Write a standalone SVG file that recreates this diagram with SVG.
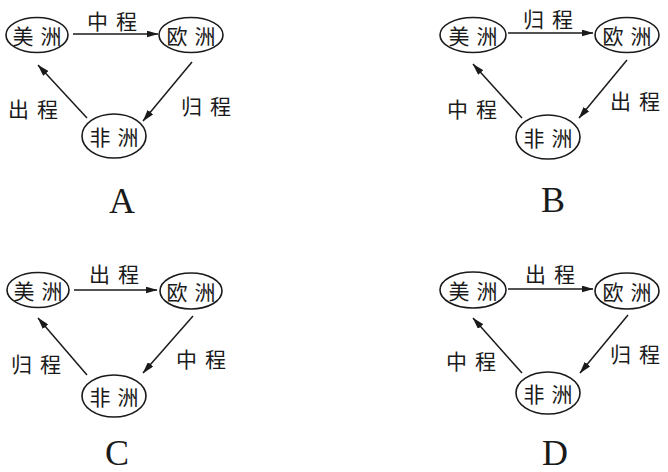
<svg xmlns="http://www.w3.org/2000/svg" width="668" height="472" viewBox="0 0 668 472">
<defs>
<style>
.n{fill:none;stroke:#1a1a1a;stroke-width:1.6}
.nt{font-family:"Noto Sans CJK SC","Noto Sans CJK JP",sans-serif;font-size:21px;font-weight:400;fill:#1a1a1a;dominant-baseline:central}
.lb{font-family:"Noto Sans CJK SC","Noto Sans CJK JP",sans-serif;font-size:21px;font-weight:400;fill:#1a1a1a;dominant-baseline:central}
.c{stroke:#1a1a1a;stroke-width:1.5;fill:none;marker-end:url(#ah)}
.cap{font-family:"Liberation Serif",serif;font-size:36px;fill:#1a1a1a;text-anchor:middle}
</style>
<marker id="ah" viewBox="0 0 12 7" refX="11.5" refY="3.5" markerWidth="12" markerHeight="7" markerUnits="userSpaceOnUse" orient="auto">
<path d="M0,0 L12,3.5 L0,7 Z" fill="#1a1a1a"/>
</marker>
</defs>
<rect width="668" height="472" fill="#ffffff"/>

<g id="connectors">
<line class="c" x1="73" y1="34" x2="158" y2="34"/>
<line class="c" x1="192" y1="62" x2="143" y2="121"/>
<line class="c" x1="87" y1="118" x2="38" y2="65"/>

<line class="c" x1="508" y1="33" x2="593" y2="33"/>
<line class="c" x1="627" y1="60" x2="579" y2="118"/>
<line class="c" x1="522" y1="118" x2="473" y2="64"/>

<line class="c" x1="74" y1="290" x2="157" y2="290"/>
<line class="c" x1="193" y1="316" x2="143" y2="373"/>
<line class="c" x1="87" y1="375" x2="38" y2="318"/>

<line class="c" x1="508" y1="289" x2="593" y2="289"/>
<line class="c" x1="628" y1="315" x2="580" y2="373"/>
<line class="c" x1="522" y1="373" x2="473" y2="318"/>
</g>

<g id="labels">
<text class="lb" x="87" y="20">中<tspan dx="8">程</tspan></text>
<text class="lb" x="181" y="105">归<tspan dx="8">程</tspan></text>
<text class="lb" x="8" y="108">出<tspan dx="8">程</tspan></text>

<text class="lb" x="523" y="18">归<tspan dx="8">程</tspan></text>
<text class="lb" x="610" y="100">出<tspan dx="8">程</tspan></text>
<text class="lb" x="447" y="108">中<tspan dx="8">程</tspan></text>

<text class="lb" x="89" y="273">出<tspan dx="8">程</tspan></text>
<text class="lb" x="176" y="358">中<tspan dx="8">程</tspan></text>
<text class="lb" x="11" y="363">归<tspan dx="8">程</tspan></text>

<text class="lb" x="525" y="273">出<tspan dx="8">程</tspan></text>
<text class="lb" x="610" y="353">归<tspan dx="8">程</tspan></text>
<text class="lb" x="446" y="360">中<tspan dx="8">程</tspan></text>
</g>

<g id="A-america"><ellipse class="n" cx="37" cy="35" rx="31" ry="17.5"/><text class="nt" x="12.5" y="35">美<tspan dx="7">洲</tspan></text></g>
<g id="A-europe"><ellipse class="n" cx="191" cy="35" rx="32" ry="17.5"/><text class="nt" x="166.5" y="35">欧<tspan dx="7">洲</tspan></text></g>
<g id="A-africa"><ellipse class="n" cx="114" cy="136" rx="32" ry="22"/><text class="nt" x="89.5" y="136">非<tspan dx="7">洲</tspan></text></g>
<text class="cap" x="122" y="213">A</text>

<g id="B-america"><ellipse class="n" cx="473" cy="35" rx="33" ry="17.5"/><text class="nt" x="448.5" y="35">美<tspan dx="7">洲</tspan></text></g>
<g id="B-europe"><ellipse class="n" cx="627" cy="35" rx="32" ry="17.5"/><text class="nt" x="602.5" y="35">欧<tspan dx="7">洲</tspan></text></g>
<g id="B-africa"><ellipse class="n" cx="548" cy="137" rx="32" ry="22"/><text class="nt" x="523.5" y="137">非<tspan dx="7">洲</tspan></text></g>
<text class="cap" x="553" y="212">B</text>

<g id="C-america"><ellipse class="n" cx="38" cy="290" rx="31" ry="17.5"/><text class="nt" x="13.5" y="290">美<tspan dx="7">洲</tspan></text></g>
<g id="C-europe"><ellipse class="n" cx="191" cy="291" rx="31" ry="18"/><text class="nt" x="166.5" y="291">欧<tspan dx="7">洲</tspan></text></g>
<g id="C-africa"><ellipse class="n" cx="114" cy="396" rx="32" ry="21"/><text class="nt" x="89.5" y="396">非<tspan dx="7">洲</tspan></text></g>
<text class="cap" x="117" y="465">C</text>

<g id="D-america"><ellipse class="n" cx="473" cy="290" rx="33" ry="18"/><text class="nt" x="448.5" y="290">美<tspan dx="7">洲</tspan></text></g>
<g id="D-europe"><ellipse class="n" cx="627" cy="291" rx="32" ry="18"/><text class="nt" x="602.5" y="291">欧<tspan dx="7">洲</tspan></text></g>
<g id="D-africa"><ellipse class="n" cx="548" cy="393" rx="32" ry="21"/><text class="nt" x="523.5" y="393">非<tspan dx="7">洲</tspan></text></g>
<text class="cap" x="555" y="465">D</text>
</svg>
